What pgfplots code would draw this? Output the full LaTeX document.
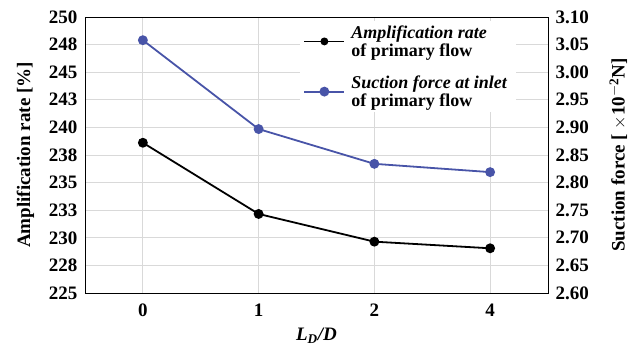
\documentclass[border=0pt]{standalone}
\usepackage{fontspec}
\setmainfont{Liberation Serif}
\usepackage{pgfplots}
\pgfplotsset{compat=1.18}
\definecolor{myblue}{RGB}{72,84,168}
\definecolor{gridgray}{RGB}{217,217,217}
\begin{document}
\begin{tikzpicture}
\path[use as bounding box] (-85pt,-58pt) rectangle (556pt,293pt);
\begin{axis}[
  scale only axis, width=463pt, height=276pt,
  xmin=-0.5, xmax=3.5, xtick={0,1,2,3}, xticklabels={0,1,2,4},
  ymin=225, ymax=250,
  ytick={225,227.5,230,232.5,235,237.5,240,242.5,245,247.5,250},
  yticklabels={225,228,230,233,235,238,240,243,245,248,250},
  tick pos=left, major tick length=0pt,
  grid=major, grid style={gridgray, line width=0.8pt},
  axis line style={black, line width=0.9pt},
  tick label style={font=\bfseries\fontsize{19}{19}\selectfont},
  xticklabel style={yshift=-7pt},
  yticklabel style={xshift=-4pt},
  ylabel={\textbf{Amplification rate [\%]}},
  ylabel style={font=\bfseries\fontsize{19}{19}\selectfont, yshift=8pt},
  xlabel={\textbf{\textit{L\textsubscript{D}/D}}},
  xlabel style={font=\bfseries\fontsize{19}{19}\selectfont, yshift=-5pt},
]
\addplot[black, line width=1.8pt, mark=*, mark size=4pt] coordinates {
  (0,238.61) (1,232.16) (2,229.65) (3,229.05)
};
\end{axis}
\begin{axis}[
  scale only axis, width=463pt, height=276pt,
  xmin=-0.5, xmax=3.5, hide x axis,
  ymin=2.6, ymax=3.1,
  ytick={2.60,2.65,2.70,2.75,2.80,2.85,2.90,2.95,3.00,3.05,3.10},
  axis y line*=right, major tick length=0pt,
  axis line style={black, line width=0.9pt},
  /pgf/number format/assume math mode=true,
  yticklabel style={font=\bfseries\fontsize{19}{19}\selectfont, xshift=4pt,
    /pgf/number format/.cd, fixed, fixed zerofill, precision=2},
  ylabel={\textbf{Suction force [ $\times$10\textsuperscript{$-$2}N]}},
  ylabel style={font=\bfseries\fontsize{19}{19}\selectfont, yshift=-14pt},
  legend style={at={(0.465,0.985)}, anchor=north west, draw=none, fill=white,
    font=\bfseries\fontsize{18}{18}\selectfont, row sep=14pt,
    nodes={align=left, inner xsep=6pt}},
  legend cell align=left,
  legend image code/.code={
    \draw[mark repeat=2, mark phase=2] plot coordinates {(0pt,0pt) (20pt,0pt) (40pt,0pt)};
  },
]
\addlegendimage{black, line width=1.8pt, mark=*, mark size=3pt}
\addlegendentry{\textit{Amplification rate}\\of primary flow}
\addplot[myblue, line width=1.8pt, mark=*, mark size=4pt] coordinates {
  (0,3.058) (1,2.897) (2,2.834) (3,2.819)
};
\addlegendentry{\textit{Suction force at inlet}\\of primary flow}
\end{axis}
\end{tikzpicture}
\end{document}
